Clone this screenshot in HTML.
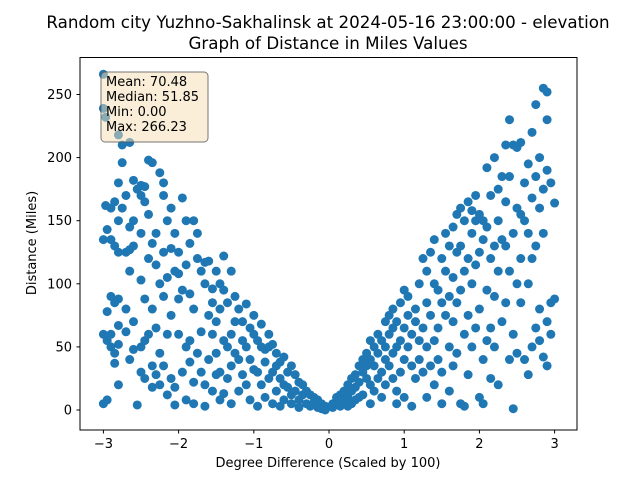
<!DOCTYPE html>
<html><head><meta charset="utf-8"><style>
body{margin:0;background:#fff;}
svg{display:block;font-family:"DejaVu Sans","Liberation Sans",sans-serif;}
</style></head><body>
<svg id="chart" width="640" height="480" viewBox="0 0 640 480" xmlns="http://www.w3.org/2000/svg">
<rect width="640" height="480" fill="#fff"/>
<text x="328" y="28" font-size="16.7" text-anchor="middle">Random city Yuzhno-Sakhalinsk at 2024-05-16 23:00:00  - elevation</text>
<text x="328" y="49" font-size="16.7" text-anchor="middle">Graph of Distance in Miles Values</text>
<g id="points"></g>
<rect x="80" y="57.5" width="497" height="372.5" fill="none" stroke="#000" stroke-width="1"/>
<g id="xticks"></g>
<g id="yticks"></g>
<text x="328" y="467" font-size="13" text-anchor="middle">Degree Difference (Scaled by 100)</text>
<text transform="translate(36,243) rotate(-90)" font-size="13" text-anchor="middle">Distance (Miles)</text>
<g>
<rect x="101" y="72" width="107" height="70" rx="4" fill="#f5deb3" fill-opacity="0.5" stroke="#555" stroke-opacity="0.8"/>
<text x="106" y="86" font-size="13">Mean: 70.48</text>
<text x="106" y="101" font-size="13">Median: 51.85</text>
<text x="106" y="116" font-size="13">Min: 0.00</text>
<text x="106" y="131" font-size="13">Max: 266.23</text>
</g>
</svg>
<script>
const xTickValues=[-3,-2,-1,0,1,2,3];
const xTickLabels=["\u22123","\u22122","\u22121","0","1","2","3"];
const yTickValues=[0,50,100,150,200,250];
const yTickLabels=["0","50","100","150","200","250"];
const groupX=[-3.0,-2.97,-2.95,-2.9,-2.85,-2.8,-2.75,-2.7,-2.65,-2.6,-2.55,-2.5,-2.45,-2.4,-2.35,-2.3,-2.25,-2.2,-2.15,-2.1,-2.05,-2.0,-1.95,-1.9,-1.85,-1.8,-1.75,-1.7,-1.65,-1.6,-1.55,-1.5,-1.45,-1.4,-1.35,-1.3,-1.25,-1.2,-1.15,-1.1,-1.05,-1.0,-0.95,-0.9,-0.85,-0.8,-0.75,-0.7,-0.65,-0.6,-0.55,-0.5,-0.45,-0.4,-0.35,-0.3,-0.25,-0.2,-0.15,-0.1,-0.05,
0.05,0.1,0.15,0.2,0.25,0.3,0.35,0.4,0.45,0.5,0.55,0.6,0.65,0.7,0.75,0.8,0.85,0.9,0.95,1.0,1.05,1.1,1.15,1.2,1.25,1.3,1.35,1.4,1.45,1.5,1.55,1.6,1.65,1.7,1.75,1.8,1.85,1.9,1.95,2.0,2.05,2.1,2.15,2.2,2.25,2.3,2.35,2.4,2.45,2.5,2.55,2.6,2.65,2.7,2.75,2.8,2.85,2.9,2.95,3.0];
const groupDistances=[[266,239,5,135,60],[162,232],[55,143,8,78],[160,90,50,135,60],[165,130,45,37,85],[180,150,125,88,20,52,67,218],[196,160,210],[170,125,62,80],[212,127,40,110,145],[182,150,130,70,48],[175,4],[178,170,140,103,30,50],[165,177,25,55,88],[198,155,120,60],[196,132,80,35,18],[140,115,65,28],[188,100,45,20],[180,170,125,90,35],[150,105,60,12],[160,128,75,25],[140,110,18,4],[125,108,88,60],[168,95,30],[150,115,50,8],[132,92,55,38],[150,80,22,5],[140,120,45],[110,62,30],[117,100,20,3],[118,75,40],[96,85,60,15],[110,70,45,28],[100,80,30,8],[122,95,55,13],[85,50,25],[110,60,35,5],[90,70,45],[80,40,15],[70,55,28],[84,50,20],[65,40,8],[75,60,32],[55,30,3],[68,50,20],[48,38,10],[60,50,25],[52,30,5],[45,35,15],[38,25,3],[42,20,8],[30,18],[35,12,5],[28,15],[22,8,2],[20,12],[15,5],[12,3],[10,6],[8,2],[5,1],[3,0],
[2,5],[6,10],[3,12,8],[15,6],[20,10,3],[25,15,5],[28,18,8],[35,22,10],[40,30,12],[45,25,35],[55,40,20,5],[50,35,15],[60,45,25],[55,30,10],[70,50,40,20],[75,60,35],[80,65,45,25],[70,50,15,5],[85,55,30],[95,65,40,10],[90,75,50],[60,35,3],[80,70,25],[100,55,40],[120,65,30],[110,85,50,10],[125,75,35],[135,100,55,20],[95,65,40],[120,85,30,5],[140,110,75],[130,90,50,15],[145,105,70,35],[155,125,85,45],[160,130,95,5],[150,110,60,3],[165,120,75,28],[158,140,100,50],[170,150,115,65],[155,125,80,10],[150,135,40,5],[192,145,95,55],[170,120,65,25],[200,130,90,50],[175,150,110,20],[185,135,70],[210,165,130,85],[230,185,110,40],[210,140,60,1],[208,160,100,45],[212,155,120,85],[180,150,40],[195,140,100,28],[220,168,120,50],[242,185,130,65],[200,160,80,55],[255,175,140,42],[252,230,190,35,70],[180,85,60],[164,88]];
const NS="http://www.w3.org/2000/svg";
function sx(v){return 329+v*75.2;}
function sy(v){return 410-v*1.262;}
const pg=document.getElementById('points');
groupX.forEach((x,i)=>{
  (groupDistances[i]||[]).forEach(d=>{
    const c=document.createElementNS(NS,'circle');
    c.setAttribute('cx',sx(x));c.setAttribute('cy',sy(d));c.setAttribute('r',4.5);c.setAttribute('fill','#1f77b4');
    
    
    pg.appendChild(c);
  });
});
const xg=document.getElementById('xticks');
xTickValues.forEach((v,i)=>{
  const l=document.createElementNS(NS,'line');
  l.setAttribute('x1',sx(v));l.setAttribute('x2',sx(v));l.setAttribute('y1',430);l.setAttribute('y2',433.5);l.setAttribute('stroke','#000');
  
  
  xg.appendChild(l);
  const t=document.createElementNS(NS,'text');
  t.setAttribute('x',sx(v));t.setAttribute('y',448);t.setAttribute('font-size','13');t.setAttribute('text-anchor','middle');
  t.textContent=xTickLabels[i];
  
  
  xg.appendChild(t);
});
const yg=document.getElementById('yticks');
yTickValues.forEach((v,i)=>{
  const l=document.createElementNS(NS,'line');
  l.setAttribute('x1',76.5);l.setAttribute('x2',80);l.setAttribute('y1',sy(v));l.setAttribute('y2',sy(v));l.setAttribute('stroke','#000');
  
  
  yg.appendChild(l);
  const t=document.createElementNS(NS,'text');
  t.setAttribute('x',72);t.setAttribute('y',sy(v)+4.5);t.setAttribute('font-size','13');t.setAttribute('text-anchor','end');
  t.textContent=yTickLabels[i];
  
  
  yg.appendChild(t);
});
</script>
</body></html>
